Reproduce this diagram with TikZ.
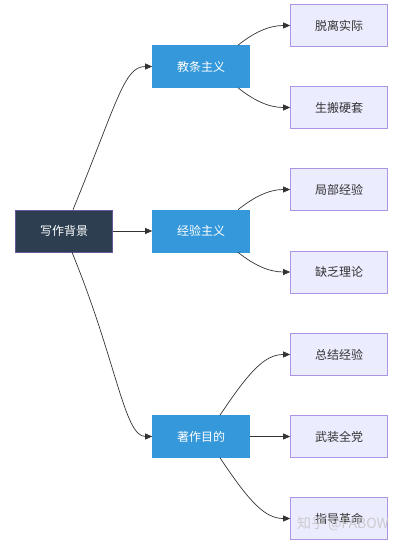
\documentclass[tikz,border=0pt]{standalone}
\usepackage{fontspec}
\setmainfont{Noto Sans CJK SC}
\usetikzlibrary{arrows.meta}
\definecolor{darkfill}{HTML}{2C3E50}
\definecolor{bluefill}{HTML}{3498DB}
\definecolor{lightfill}{HTML}{ECECFF}
\definecolor{lightline}{HTML}{9370DB}
\definecolor{edgecol}{HTML}{333333}
\begin{document}
\begin{tikzpicture}[x=1pt,y=-1pt,
  base/.style={minimum width=97pt,minimum height=42pt,inner sep=0pt,font=\fontsize{12}{14}\selectfont,line width=0.6pt},
  rootbox/.style={base,fill=darkfill,draw=lightline!55!darkfill,text=white},
  midbox/.style={base,fill=bluefill,draw=bluefill,text=white},
  leafbox/.style={base,fill=lightfill,draw=lightline!75!white,text=edgecol},
  link/.style={draw=edgecol,line width=0.7pt,-{Triangle[length=7pt,width=6pt]}}]
\useasboundingbox (0,0) rectangle (400,548);
\node[rootbox] (root) at (64,231) {写作背景};
\node[midbox] (m1) at (201,66.5) {教条主义};
\node[midbox] (m2) at (201,231) {经验主义};
\node[midbox] (m3) at (201,436.5) {著作目的};
\node[leafbox] (l1) at (339,25.5) {脱离实际};
\node[leafbox] (l2) at (339,107.5) {生搬硬套};
\node[leafbox] (l3) at (339,189.5) {局部经验};
\node[leafbox] (l4) at (339,272) {缺乏理论};
\node[leafbox] (l5) at (339,354.5) {总结经验};
\node[leafbox] (l6) at (339,436.5) {武装全党};
\node[leafbox] (l7) at (339,518.5) {指导革命};
% edges from root
\draw[link] ([xshift=9pt]root.north) .. controls +(45,-110) and +(-28,0) .. (m1.west);
\draw[link] (root.east) -- (m2.west);
\draw[link] ([xshift=8pt]root.south) .. controls +(45,110) and +(-28,0) .. (m3.west);
% edges from m1
\draw[link] ([xshift=37pt]m1.north) .. controls +(15,-12) and +(-22,0) .. (l1.west);
\draw[link] ([xshift=37pt]m1.south) .. controls +(15,12) and +(-22,0) .. (l2.west);
% edges from m2
\draw[link] ([xshift=37pt]m2.north) .. controls +(15,-12) and +(-22,0) .. (l3.west);
\draw[link] ([xshift=37pt]m2.south) .. controls +(15,12) and +(-22,0) .. (l4.west);
% edges from m3
\draw[link] ([xshift=19pt]m3.north) .. controls +(30,-45) and +(-25,0) .. (l5.west);
\draw[link] (m3.east) -- (l6.west);
\draw[link] ([xshift=19pt]m3.south) .. controls +(30,45) and +(-25,0) .. (l7.west);
% watermark
\node[text=gray!45,font=\fontsize{14}{16}\selectfont,inner sep=0pt,opacity=0.85] (wm) at (343,524) {知乎 @FABOW};
\end{tikzpicture}
\end{document}
